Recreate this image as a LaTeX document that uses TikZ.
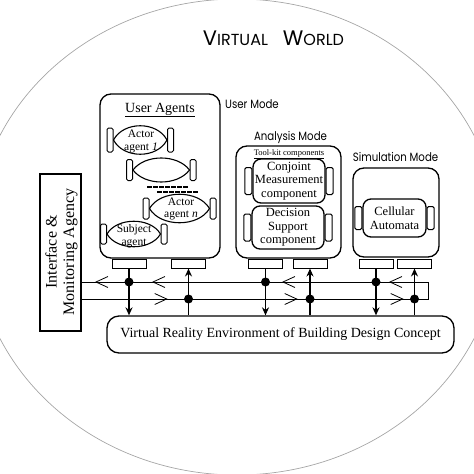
\documentclass[tikz,border=0pt]{standalone}
\usepackage{fontspec}
\setmainfont{Liberation Serif}
\newfontfamily\modefont[FakeStretch=0.85]{Poppins}
\newfontfamily\titlefont{Poppins}
\usetikzlibrary{positioning,arrows.meta,decorations.markings}

\tikzset{
    modebox/.style={draw, line width=1.3pt, rounded corners=11pt, inner sep=0pt},
    port/.style={draw, line width=1pt, minimum width=34pt, minimum height=9pt, inner sep=0pt},
    comp/.style={draw, line width=1.3pt, rounded corners=8pt, align=center, inner sep=0pt,
                 font=\fontsize{12.5pt}{13.5pt}\selectfont},
    grip/.style={draw, line width=1pt, rounded corners=1.5pt, inner sep=0pt},
    agenttext/.style={align=center, inner sep=0pt, font=\fontsize{11.5pt}{12.5pt}\selectfont},
    agentline/.style={line width=1.1pt},
    agentgap/.style={line width=1.4pt, dash pattern=on 4.5pt off 1.5pt},
    modelabel/.style={inner sep=0pt, font=\modefont\fontsize{12pt}{14pt}\selectfont},
    bus/.style={line width=0.8pt},
    chev/.tip={Straight Barb[length=12pt, width=11pt, line width=0.8pt]},
    link/.style={line width=1.6pt, -{Stealth[length=8pt, width=7pt]}},
    junction/.style={circle, fill, inner sep=0pt, minimum size=9pt}
}

% lens shaped agent body between two grips
\newcommand{\lensbody}[4]{%
    \draw[agentline] (#1.east) .. controls +(#4,-#3) and +(-#4,-#3) .. (#2.west)
                               .. controls +(-#4,#3) and +(#4,#3) .. (#1.east);}

\begin{document}
\begin{tikzpicture}[x=1pt, y=-1pt]
    \useasboundingbox (0,0) rectangle (474,474);

    % the world
    \draw[black!35, line width=0.7pt] (237,237) ellipse [x radius=262, y radius=238];
    \node[font=\titlefont, anchor=base, inner sep=0pt] (title) at (273.5,45)
        {\fontsize{21pt}{21pt}\selectfont V\fontsize{16pt}{16pt}\selectfont IRTUAL\hspace{15pt}%
         \fontsize{21pt}{21pt}\selectfont W\fontsize{16pt}{16pt}\selectfont ORLD};

    \begin{scope}[every node/.style={modebox}]
        \node[minimum width=120pt, minimum height=164pt] (user) at (160,176) {};
        \node[minimum width=105pt, minimum height=112pt] (analysis) at (288.5,202) {};
        \node[minimum width=86pt, minimum height=89pt] (simulation) at (396,212.5) {};
        \node[rounded corners=12pt, minimum width=347pt, minimum height=37pt,
              font=\fontsize{14pt}{15pt}\selectfont] (vr) at (280.5,334.5)
            {Virtual Reality Environment of Building Design Concept};
    \end{scope}

    \node[draw, line width=1.3pt, minimum width=41pt, minimum height=157pt] (iface) at (60.5,252.5) {};
    \node[rotate=90, align=center, inner sep=0pt, font=\fontsize{16pt}{17.5pt}\selectfont]
        (ifacetext) at (61.5,252) {Interface \&\\Monitoring Agency};

    % labels
    \node[modelabel, anchor=base west] (usermode) at (225,108) {User Mode};
    \node[modelabel, anchor=base] (analysismode) at (290.5,140) {Analysis Mode};
    \node[modelabel, anchor=base] (simmode) at (395.5,161) {Simulation Mode};
    \node[anchor=base, inner sep=0pt, font=\fontsize{14pt}{16pt}\selectfont] (useragents) at (160,112)
        {\underline{User Agents}};
    \node[anchor=base, inner sep=0pt, font=\fontsize{8.5pt}{9pt}\selectfont] (toolkit) at (289,155)
        {\underline{Tool-kit components}};

    % user agents
    \begin{scope}[every node/.style={grip, minimum width=6pt}]
        \node[minimum height=24pt] (a1l) at (110,140) {};
        \node[minimum height=24pt] (a1r) at (170.5,140) {};
        \node[minimum height=21pt] (a2l) at (129.5,170) {};
        \node[minimum height=21pt] (a2r) at (193,170) {};
        \node[minimum height=21pt] (anl) at (146,208.5) {};
        \node[minimum height=21pt] (anr) at (213,208.5) {};
        \node[minimum height=20pt] (sbl) at (103.5,234) {};
        \node[minimum height=20pt] (sbr) at (164,234) {};
    \end{scope}
    \lensbody{a1l}{a1r}{19}{10}
    \lensbody{a2l}{a2r}{16}{12}
    \lensbody{anl}{anr}{19}{11}
    \lensbody{sbl}{sbr}{17}{10}
    \node[agenttext] (a1) at (141,141.5) {Actor\\agent \textit{1}};
    \node[agenttext] (an) at (181,209) {Actor\\agent \textit{n}};
    \node[agenttext] (sb) at (134,236) {Subject\\agent};
    \draw[agentgap] (147,187) -- (189,187);
    \draw[agentgap] (157,192) -- (199,192);

    % tool-kit and simulation components
    \node[comp, minimum width=72pt, minimum height=44pt] (conjoint) at (289,181)
        {Conjoint\\Measurement\\component};
    \node[comp, minimum width=72pt, minimum height=43pt] (decision) at (288,227.5)
        {Decision\\Support\\component};
    \node[comp, minimum width=63pt, minimum height=38pt] (cellular) at (394.5,218)
        {Cellular\\Automata};
    \begin{scope}[every node/.style={grip, minimum width=7pt}]
        \node[minimum height=27pt, left=0pt of conjoint] (conjointL) {};
        \node[minimum height=27pt, right=0pt of conjoint] (conjointR) {};
        \node[minimum height=27pt, left=0pt of decision] (decisionL) {};
        \node[minimum height=27pt, right=0pt of decision] (decisionR) {};
        \node[minimum height=23pt, left=0pt of cellular] (cellularL) {};
        \node[minimum height=23pt, right=0pt of cellular] (cellularR) {};
    \end{scope}

    % ports
    \begin{scope}[every node/.style={port}]
        \node (up1) at (129,263.5) {};
        \node (up2) at (188.5,263.5) {};
        \node (ap1) at (265.5,263.5) {};
        \node (ap2) at (310,263.5) {};
        \node (sp1) at (376,263.5) {};
        \node (sp2) at (414.5,263.5) {};
    \end{scope}

    % bus loop
    \coordinate (busTR) at (428,282);
    \coordinate (busBR) at (428,299);
    \draw[bus, postaction={decorate}, decoration={markings,
            mark=at position 39pt with {\arrow{chev}},
            mark=at position 146pt with {\arrow{chev}},
            mark=at position 276pt with {\arrow{chev}},
            mark=at position 333pt with {\arrow{chev}}}]
        (busTR) -- (iface.east |- busTR);
    \draw[bus, postaction={decorate}, decoration={markings,
            mark=at position 86pt with {\arrow{chev}},
            mark=at position 216pt with {\arrow{chev}},
            mark=at position 322pt with {\arrow{chev}}}]
        (iface.east |- busBR) -- (busBR) -- (busTR);

    % links between modes and environment
    \draw[link] (up1.south) -- (up1.south |- vr.north);
    \draw[link] (up2.south |- vr.north) -- (up2.south);
    \draw[link] (ap1.south) -- (ap1.south |- vr.north);
    \draw[link] (ap2.south |- vr.north) -- (ap2.south);
    \draw[link] (sp1.south) -- (sp1.south |- vr.north);
    \draw[link] (sp2.south |- vr.north) -- (sp2.south);

    \begin{scope}[every node/.style={junction}]
        \node (uj1) at (up1.south |- busTR) {};
        \node (uj2) at (up2.south |- busBR) {};
        \node (aj1) at (ap1.south |- busTR) {};
        \node (aj2) at (ap2.south |- busBR) {};
        \node (sj1) at (sp1.south |- busTR) {};
        \node (sj2) at (sp2.south |- busBR) {};
    \end{scope}
\end{tikzpicture}
\end{document}
